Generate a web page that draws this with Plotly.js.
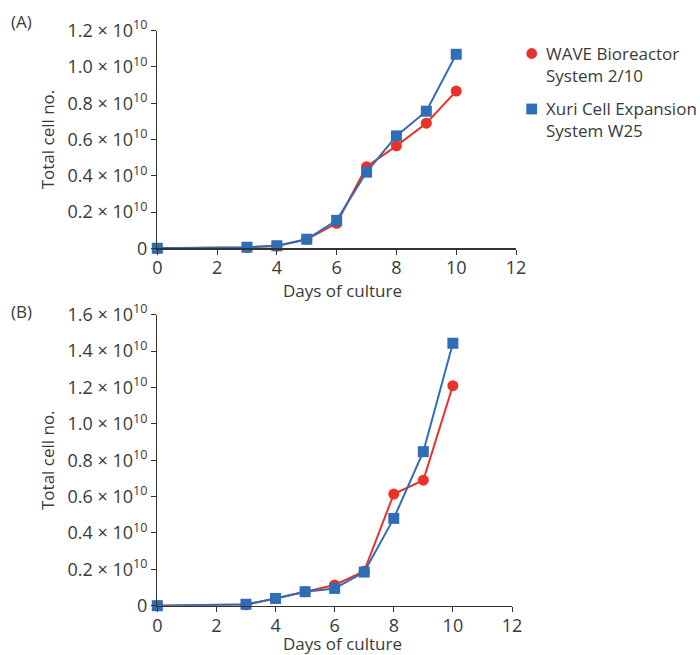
<!DOCTYPE html>
<html>
<head>
<meta charset="utf-8">
<script src="https://cdn.plot.ly/plotly-3.0.1.min.js"></script>
<style>html,body{margin:0;padding:0;background:#fff}#chart{width:700px;height:655px}</style>
</head>
<body>
<div id="chart"></div>
<script>
// Data
const days = [0, 3, 4, 5, 6, 7, 8, 9, 10];
const waveA = [0, 0.005e10, 0.012e10, 0.05e10, 0.138e10, 0.45e10, 0.565e10, 0.69e10, 0.867e10];
const xuriA = [0, 0.006e10, 0.014e10, 0.05e10, 0.154e10, 0.42e10, 0.62e10, 0.756e10, 1.07e10];
const waveB = [0, 0.005e10, 0.04e10, 0.077e10, 0.114e10, 0.19e10, 0.614e10, 0.69e10, 1.21e10];
const xuriB = [0, 0.008e10, 0.04e10, 0.077e10, 0.095e10, 0.185e10, 0.48e10, 0.847e10, 1.443e10];
const xTicks = [0, 2, 4, 6, 8, 10, 12];
const yTicksA = [0, 0.2e10, 0.4e10, 0.6e10, 0.8e10, 1.0e10, 1.2e10];
const yTextA = ['0', '0.2 × 10<sup>10</sup>', '0.4 × 10<sup>10</sup>', '0.6 × 10<sup>10</sup>', '0.8 × 10<sup>10</sup>', '1.0 × 10<sup>10</sup>', '1.2 × 10<sup>10</sup>'];
const yTicksB = [0, 0.2e10, 0.4e10, 0.6e10, 0.8e10, 1.0e10, 1.2e10, 1.4e10, 1.6e10];
const yTextB = ['0', '0.2 × 10<sup>10</sup>', '0.4 × 10<sup>10</sup>', '0.6 × 10<sup>10</sup>', '0.8 × 10<sup>10</sup>', '1.0 × 10<sup>10</sup>', '1.2 × 10<sup>10</sup>', '1.4 × 10<sup>10</sup>', '1.6 × 10<sup>10</sup>'];
const seriesNames = ['WAVE Bioreactor<br>System 2/10', 'Xuri Cell Expansion<br>System W25'];
const xTitle = 'Days of culture';
const yTitle = 'Total cell no.';

const RED = '#e8322b';
const BLUE = '#2f6db6';
const TXT = '#3a3a3a';
const FONT = 'Open Sans, sans-serif';
const FS = 17;
const TFS = 18;
const W = 700, H = 655;
const px = v => v / W;
const py = v => 1 - v / H;

function tr(x, y, color, symbol, xa, ya, name) {
  return {
    x: x, y: y, xaxis: xa, yaxis: ya, type: 'scatter', mode: 'lines+markers', name: name,
    line: {color: color, width: 2},
    marker: {color: color, symbol: symbol, size: 11},
    cliponaxis: false, showlegend: false, hoverinfo: 'skip'
  };
}

const data = [
  tr(days, waveA, RED, 'circle', 'x', 'y', seriesNames[0]),
  tr(days, xuriA, BLUE, 'square', 'x', 'y', seriesNames[1]),
  tr(days, waveB, RED, 'circle', 'x2', 'y2', seriesNames[0]),
  tr(days, xuriB, BLUE, 'square', 'x2', 'y2', seriesNames[1])
];

function xax(domain, anchor) {
  return {
    domain: domain, anchor: anchor, range: [0, 12], tickvals: xTicks,
    ticks: 'outside', ticklen: 5, tickcolor: '#333', showline: true, linecolor: '#333', linewidth: 1.3,
    showgrid: false, zeroline: false, tickfont: {size: TFS, color: TXT, family: FONT},
    ticklabelstandoff: -2,
    automargin: false, fixedrange: true
  };
}
function yax(domain, anchor, maxv, vals, text) {
  return {
    domain: domain, anchor: anchor, range: [0, maxv], tickvals: vals, ticktext: text,
    ticks: 'outside', ticklen: 5, tickcolor: '#333', showline: true, linecolor: '#333', linewidth: 1.3,
    showgrid: false, zeroline: false, tickfont: {size: TFS, color: TXT, family: FONT},
    title: {text: yTitle, font: {size: FS, color: TXT, family: FONT}, standoff: 8},
    automargin: false, fixedrange: true
  };
}

// Legend drawn as shapes + annotations (keeps plot area fixed)
const lgX = 531.7, lgR = 5.4;
const lgRows = [53.5, 109];

function note(text, x, y, xanchor) {
  return {text: text, x: px(x), y: py(y), xref: 'paper', yref: 'paper', xanchor: xanchor, yanchor: 'middle',
          align: 'left', showarrow: false, borderpad: 0, font: {size: FS, color: TXT, family: FONT}};
}

const layout = {
  width: W, height: H,
  margin: {l: 0, r: 0, t: 0, b: 0},
  paper_bgcolor: '#fff', plot_bgcolor: '#fff',
  font: {family: FONT, color: TXT},
  showlegend: false,
  xaxis: xax([px(157.3), px(516)], 'y'),
  yaxis: yax([py(248.3), py(30.7)], 'x', 1.2e10, yTicksA, yTextA),
  xaxis2: xax([px(157.3), px(512)], 'y2'),
  yaxis2: yax([py(605.7), py(314.7)], 'x2', 1.6e10, yTicksB, yTextB),
  shapes: [
    {type: 'circle', xref: 'paper', yref: 'paper', x0: px(lgX - lgR), x1: px(lgX + lgR),
     y0: py(lgRows[0] + lgR), y1: py(lgRows[0] - lgR), fillcolor: RED, line: {width: 0}},
    {type: 'rect', xref: 'paper', yref: 'paper', x0: px(lgX - lgR), x1: px(lgX + lgR),
     y0: py(lgRows[1] + lgR), y1: py(lgRows[1] - lgR), fillcolor: BLUE, line: {width: 0}}
  ],
  annotations: [
    note('(A)', 10, 22, 'left'),
    note('(B)', 10, 311, 'left'),
    note(xTitle, 342.5, 290, 'center'),
    note(xTitle, 342.5, 643, 'center'),
    note(seriesNames[0], 545, lgRows[0] + 11, 'left'),
    note(seriesNames[1], 545, lgRows[1] + 11, 'left')
  ]
};

Plotly.newPlot('chart', data, layout, {displayModeBar: false, staticPlot: true});
</script>
</body>
</html>
